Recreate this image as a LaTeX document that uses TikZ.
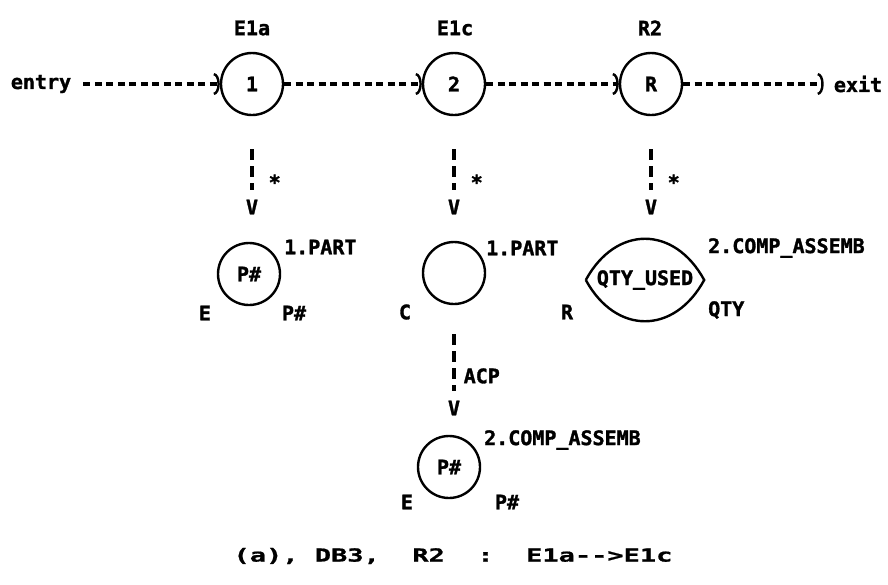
\documentclass[tikz,border=0pt]{standalone}
\usepackage{fontspec}
\setmonofont[BoldFeatures={FakeBold=1.5}]{DejaVu Sans Mono}
\newfontfamily\capfont[FakeStretch=1.5,Ligatures=NoCommon,BoldFeatures={FakeBold=1}]{DejaVu Sans Mono}
\usetikzlibrary{arrows.meta,positioning}

\begin{document}
\begin{tikzpicture}[x=1pt, y=-1pt,
    lbl/.style={font=\ttfamily\bfseries\fontsize{20}{21}\selectfont, inner sep=1pt},
    rec/.style={circle, draw, line width=2.4pt, minimum size=62pt, lbl},
    flow/.style={line width=3.4pt, dash pattern=on 7pt off 4.5pt,
        -{Arc Barb[length=6pt,width=22pt,line width=2.4pt]}},
    link/.style={line width=3.4pt, dash pattern=on 11pt off 6pt}
]
\useasboundingbox (0,0) rectangle (888,584);

% Path of records
\node[lbl] (entry) at (41,84) {entry};
\node[rec] (e1a) at (252,84) {1};
\node[rec] (e1c) at (454,84) {2};
\node[rec] (r2) at (651,84) {R};
\node[lbl] (exit) at (858,84) {exit};
\node[lbl] at (252,28) {E1a};
\node[lbl] at (455,28) {E1c};
\node[lbl] at (650,28) {R2};

\draw[flow, shorten <=11pt] (entry) -- (e1a);
\draw[flow] (e1a) -- (e1c);
\draw[flow] (e1c) -- (r2);
\draw[flow, shorten >=9pt] (r2) -- (exit);

% Links down
\node[lbl] (v1) at (252,207) {V};
\node[lbl] (v2) at (454,207) {V};
\node[lbl] (v3) at (651,207) {V};
\draw[link, shorten <=33pt, shorten >=9pt] (e1a.south) -- node[lbl, right=14pt, pos=0.8] {*} (v1.north);
\draw[link, shorten <=33pt, shorten >=9pt] (e1c.south) -- node[lbl, right=14pt, pos=0.8] {*} (v2.north);
\draw[link, shorten <=33pt, shorten >=9pt] (r2.south) -- node[lbl, right=14pt, pos=0.8] {*} (v3.north);

% Entities
\node[rec] (p1) at (249,274) {P\#};
\node[lbl, anchor=west] at (283,247) {1.PART};
\node[lbl] at (205,313) {E};
\node[lbl] at (294,313) {P\#};

\node[rec] (pc) at (454,273) {};
\node[lbl, anchor=west] at (485,248) {1.PART};
\node[lbl] at (405,312) {C};

\node[lbl, minimum width=118pt, minimum height=80pt] (qty) at (645,280) {QTY\_USED};
\draw[line width=2.4pt] (qty.west) .. controls +(30,-55) and +(-30,-55) .. (qty.east)
    .. controls +(-30,55) and +(30,55) .. (qty.west);
\node[lbl, anchor=west] at (707,248) {2.COMP\_ASSEMB};
\node[lbl] at (567,312) {R};
\node[lbl, anchor=west] at (707,310) {QTY};

% Link to assembly
\node[lbl] (v4) at (454,408) {V};
\draw[link, shorten <=29pt, shorten >=9pt] (pc.south) -- node[lbl, right=7pt, pos=0.75] {ACP} (v4.north);
\node[rec] (p2) at (449,467) {P\#};
\node[lbl, anchor=west] at (483,440) {2.COMP\_ASSEMB};
\node[lbl] at (407,502) {E};
\node[lbl] at (507,502) {P\#};

% Caption
\node[font=\capfont\bfseries\fontsize{18}{19}\selectfont] (cap) at (453,556) {(a),~DB3,~~R2~~:~~E1a{-}{-}>E1c};
\end{tikzpicture}
\end{document}
